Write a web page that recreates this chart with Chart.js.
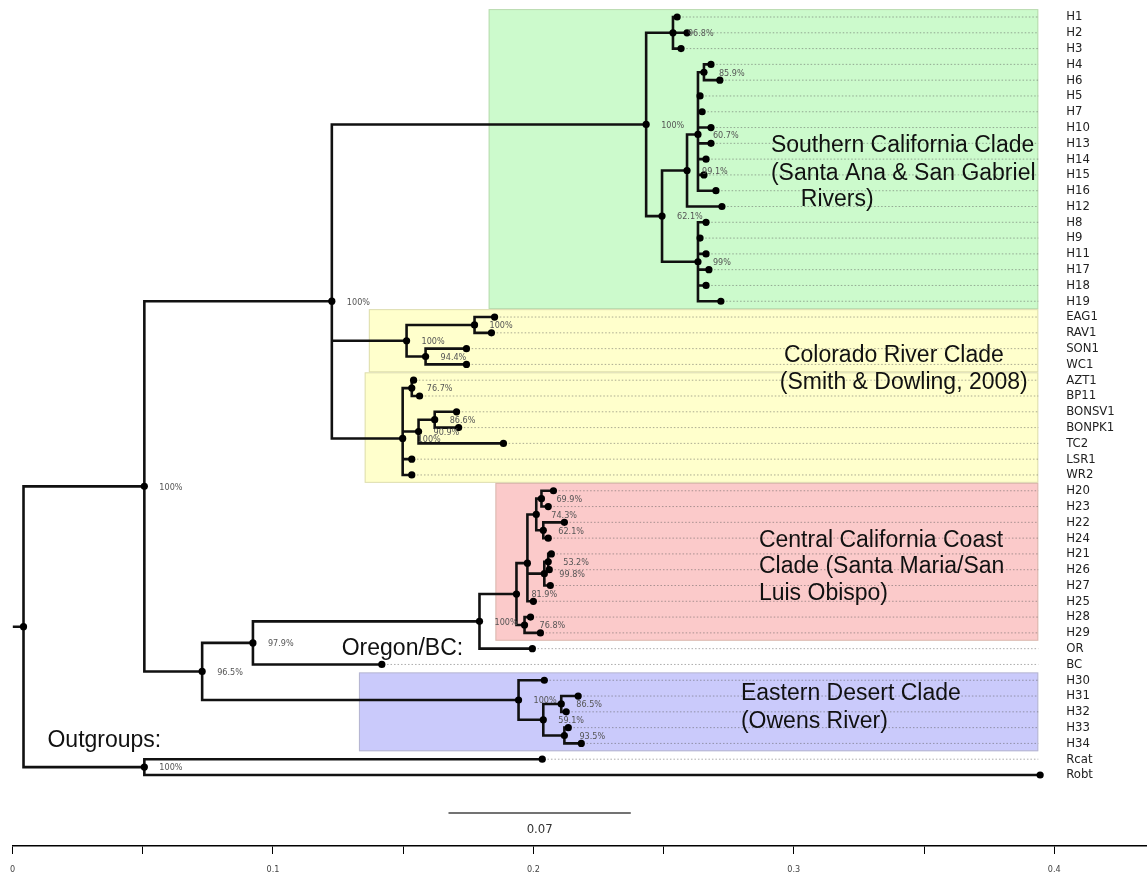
<!DOCTYPE html>
<html><head><meta charset="utf-8">
<script src="https://cdn.jsdelivr.net/npm/chart.js@4"></script>
<style>html,body{margin:0;padding:0;background:#fff;overflow:hidden}#wrap{width:1147px;height:884px;position:relative}</style>
</head><body><div id="wrap"><canvas id="c" width="1147" height="884"></canvas></div>
<script>
// ---------- DATA ----------
const leafNames = ["H1","H2","H3","H4","H6","H5","H7","H10","H13","H14","H15","H16","H12","H8","H9","H11","H17","H18","H19",
  "EAG1","RAV1","SON1","WC1","AZT1","BP11","BONSV1","BONPK1","TC2","LSR1","WR2",
  "H20","H23","H22","H24","H21","H26","H27","H25","H28","H29",
  "OR","BC","H30","H31","H32","H33","H34","Rcat","Robt"];
const leafDepths = [0.2552,0.2590,0.2567,0.2682,0.2716,0.2640,0.2648,0.2682,0.2682,0.2663,0.2655,0.2701,0.2724,0.2663,0.2640,0.2663,0.2674,0.2663,0.2720,
  0.1851,0.1839,0.1743,0.1743,0.1540,0.1563,0.1705,0.1713,0.1885,0.1533,0.1533,
  0.2077,0.2057,0.2119,0.2057,0.2069,0.2061,0.2065,0.2000,0.1989,0.2027,
  0.1996,0.1418,0.2042,0.2172,0.2126,0.2134,0.2184,0.2034,0.3946];
const nodeNames = ["root","A","OG","B","S","S1","S2","S3","S4","N46","S5","CR1","CR1a","CR1b","CR2","AB","BT","BB",
  "C","D","E","CC","F","G","G1","G2","Hn","I","P","J","K","L","M"];
const nodeDepths = [0.0042,0.0506,0.0506,0.1226,0.2433,0.2536,0.2494,0.2590,0.2632,0.2655,0.2632,0.1513,0.1774,0.1586,0.1498,0.1533,0.1559,0.1621,
  0.0728,0.0923,0.1793,0.1935,0.1977,0.2011,0.2031,0.2038,0.2042,0.2057,0.1966,0.1943,0.2038,0.2107,0.2119];
const nodeChildren = [["A","OG"],["B","C"],["Rcat","Robt"],["S","CR1","CR2"],["S1","S2"],["H1","H2","H3"],["S3","S5"],["S4","H12"],
  ["N46","H5","H7","H10","H13","H14","H15","H16"],["H4","H6"],["H8","H9","H11","H17","H18","H19"],
  ["CR1a","CR1b"],["EAG1","RAV1"],["SON1","WC1"],["AB","BT","LSR1","WR2"],["AZT1","BP11"],["BB","TC2"],["BONSV1","BONPK1"],
  ["D","J"],["E","BC"],["CC","OR"],["F","P"],["G","Hn","H25"],["G1","G2"],["H20","H23"],["H22","H24"],["I","H27"],["H21","H26"],["H28","H29"],
  ["H30","K"],["L","M"],["H31","H32"],["H33","H34"]];
const nodeSupport = ["","100%","100%","100%","100%","96.8%","62.1%","99.1%","60.7%","85.9%","99%","100%","100%","94.4%","100%","76.7%","90.9%","86.6%",
  "96.5%","97.9%","100%","81.9%","","74.3%","69.9%","62.1%","99.8%","53.2%","76.8%","100%","59.1%","86.5%","93.5%"];
const cladeNames = ["Southern California","Colorado A","Colorado B","Central California Coast","Eastern Desert"];
const cladeFirstLeaf = ["H1","EAG1","AZT1","H20","H30"];
const cladeLastLeaf = ["H19","WC1","WR2","H29","H34"];
const cladeStart = [0.1828,0.1368,0.1352,0.1854,0.1330];
const cladeEnd = 0.3939;
const cladeColors = ["#ccfacc","#ffffcc","#ffffcc","#fbcaca","#cacafb"];
const scaleBarLength = 0.07;
const axisTicks = [0,0.05,0.1,0.15,0.2,0.25,0.3,0.35,0.4];
const noteLines = ["Southern California Clade","(Santa Ana & San Gabriel","Rivers)","Colorado River Clade","(Smith & Dowling, 2008)",
  "Central California Coast","Clade (Santa Maria/San","Luis Obispo)","Eastern Desert Clade","(Owens River)","Oregon/BC:","Outgroups:"];

// ---------- LAYOUT (not data) ----------
const notePos = [[0.2912,8.17],[0.2912,9.94],[0.3027,11.59],[0.2962,21.47],[0.2946,23.18],[0.2866,33.19],[0.2866,34.83],[0.2866,36.54],
  [0.2797,42.88],[0.2797,44.65],[0.1264,40.03],[0.0134,45.85]];
const labelX = 0.4046, scaleBarX = 0.1674, scaleBarY = 50.41, scaleLabelY = 51.43;

// ---------- TREE GEOMETRY ----------
const X = {}, Y = {};
leafNames.forEach((n,i)=>{X[n]=leafDepths[i];Y[n]=i;});
nodeNames.forEach((n,i)=>{X[n]=nodeDepths[i];});
function yOf(n){ if(n in Y) return Y[n]; const k=nodeNames.indexOf(n); const ch=nodeChildren[k];
  const v=ch.map(yOf).reduce((a,b)=>a+b,0)/ch.length; Y[n]=v; return v; }
nodeNames.forEach(yOf);

const branchPts=[{x:0,y:Y.root},{x:X.root,y:Y.root},{x:X.root,y:null}];
nodeNames.forEach((n,k)=>nodeChildren[k].forEach(c=>{
  branchPts.push({x:X[n],y:Y[n]},{x:X[n],y:Y[c]},{x:X[c],y:Y[c]},{x:X[c],y:null});
}));
const dotPts=[...nodeNames,...leafNames].map(n=>({x:X[n],y:Y[n]}));
const dashPts=[];
leafNames.forEach(n=>{ if(X[n]<cladeEnd){ dashPts.push({x:X[n]+0.002,y:Y[n]},{x:cladeEnd,y:Y[n]},{x:cladeEnd,y:null}); }});
const scalePts=[{x:scaleBarX,y:scaleBarY},{x:scaleBarX+scaleBarLength,y:scaleBarY}];

const LEAF_SP = (775-17)/48;
const yMin = -17/LEAF_SP, yMax = (846-17)/LEAF_SP;

const deco = {
  id:'deco',
  beforeDatasetsDraw(chart){
    const {ctx, scales:{x,y}} = chart;
    ctx.save();
    cladeNames.forEach((nm,i)=>{
      const x0=x.getPixelForValue(cladeStart[i]), x1=x.getPixelForValue(cladeEnd);
      const y0=y.getPixelForValue(Y[cladeFirstLeaf[i]]-0.5), y1=y.getPixelForValue(Y[cladeLastLeaf[i]]+0.5);
      ctx.fillStyle=cladeColors[i]; ctx.fillRect(x0,y0,x1-x0,y1-y0);
      ctx.strokeStyle='rgba(120,120,80,0.25)'; ctx.lineWidth=1; ctx.strokeRect(x0+0.5,y0+0.5,x1-x0-1,y1-y0-1);
    });
    ctx.restore();
  },
  afterDatasetsDraw(chart){
    const {ctx, scales:{x,y}} = chart;
    ctx.save();
    ctx.textBaseline='middle'; ctx.textAlign='left';
    ctx.fillStyle='#222'; ctx.font='13px "DejaVu Sans Condensed","DejaVu Sans",sans-serif';
    leafNames.forEach(n=>ctx.fillText(n, x.getPixelForValue(labelX), y.getPixelForValue(Y[n])));
    ctx.fillStyle='#555'; ctx.font='9px "DejaVu Sans Condensed","DejaVu Sans",sans-serif';
    nodeNames.forEach((n,k)=>{ if(nodeSupport[k]) ctx.fillText(nodeSupport[k], x.getPixelForValue(X[n])+15, y.getPixelForValue(Y[n])+1); });
    ctx.fillStyle='#111'; ctx.font='23px "Liberation Sans",Arial,sans-serif';
    noteLines.forEach((t,i)=>ctx.fillText(t, x.getPixelForValue(notePos[i][0]), y.getPixelForValue(notePos[i][1])));
    ctx.fillStyle='#333'; ctx.textAlign='center'; ctx.font='13px "DejaVu Sans Condensed","DejaVu Sans",sans-serif';
    ctx.fillText(String(scaleBarLength), x.getPixelForValue(scaleBarX+scaleBarLength/2), y.getPixelForValue(scaleLabelY));
    ctx.restore();
  }
};

new Chart(document.getElementById('c'), {
  type:'scatter',
  data:{datasets:[
    {label:'nodes', data:dotPts, pointRadius:3.6, pointBackgroundColor:'#000', pointBorderWidth:0, showLine:false, order:0},
    {label:'branches', data:branchPts, showLine:true, borderColor:'#111', borderWidth:2.6, pointRadius:0, spanGaps:false, borderJoinStyle:'miter', borderCapStyle:'butt', order:1},
    {label:'leaf guides', data:dashPts, showLine:true, borderColor:'rgba(90,90,90,0.5)', borderWidth:1, borderDash:[1.5,2], pointRadius:0, spanGaps:false, order:2},
    {label:'scale', data:scalePts, showLine:true, borderColor:'#444', borderWidth:1.5, pointRadius:0, order:3}
  ]},
  options:{
    responsive:false, animation:false, devicePixelRatio:1,
    layout:{autoPadding:false, padding:{left:10,right:0,top:0,bottom:0}},
    plugins:{legend:{display:false}, tooltip:{enabled:false}},
    scales:{
      x:{type:'linear', min:0, max:(1147-10)/2610, position:'bottom',
        afterBuildTicks:(s)=>{ s.ticks = axisTicks.map(v=>({value:v})); },
        afterFit:(s)=>{ s.height = 38; },
        ticks:{ autoSkip:false, maxRotation:0, padding:10, color:'#444', font:{size:9, family:'"DejaVu Sans Condensed","DejaVu Sans",sans-serif'},
          callback:(v)=> (Math.abs(v*10-Math.round(v*10))<1e-6 ? String(Math.round(v*10)/10) : '') },
        grid:{ drawOnChartArea:false, drawTicks:true, tickLength:8, color:'#000', lineWidth:1 },
        border:{ display:true, color:'#000', width:1.5 }
      },
      y:{type:'linear', display:false, reverse:true, min:yMin, max:yMax}
    }
  },
  plugins:[deco]
});
</script></body></html>
